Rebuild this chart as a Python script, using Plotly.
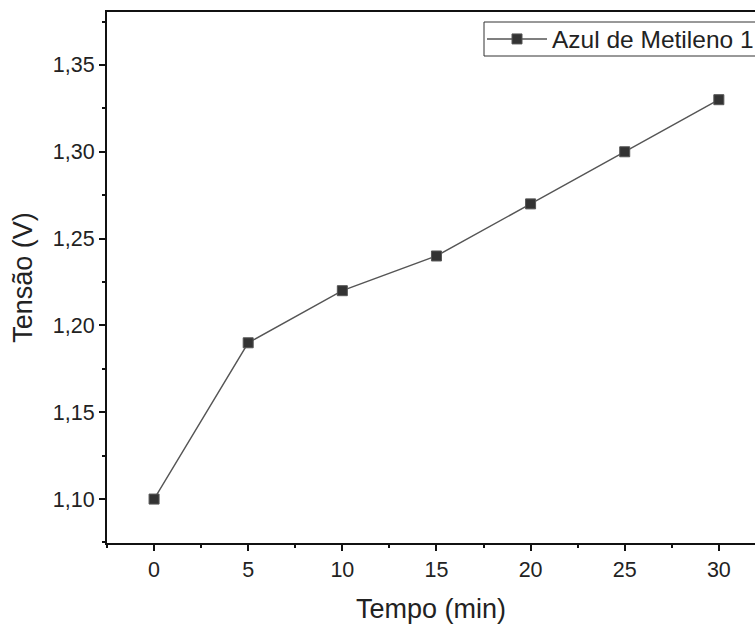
import plotly.graph_objects as go

# Tensão medida ao longo do tempo
tempo_min = [0, 5, 10, 15, 20, 25, 30]
tensao_v = [1.10, 1.19, 1.22, 1.24, 1.27, 1.30, 1.33]
serie_nome = "Azul de Metileno 1"

x_ticks = [0, 5, 10, 15, 20, 25, 30]
y_ticks = [1.10, 1.15, 1.20, 1.25, 1.30, 1.35]
y_tick_labels = ["1,10", "1,15", "1,20", "1,25", "1,30", "1,35"]

FONT = "Arial, Liberation Sans, sans-serif"

W, H = 755, 625
M_L, M_R, M_T, M_B = 107, 0, 12, 82
PLOT_W = W - M_L - M_R
PLOT_H = H - M_T - M_B


def px_x(px):
    return (px - M_L) / PLOT_W


def px_y(py):
    return 1 - (py - M_T) / PLOT_H


fig = go.Figure()
fig.add_trace(go.Scatter(
    x=tempo_min,
    y=tensao_v,
    mode="lines+markers",
    name=serie_nome,
    line=dict(color="#555555", width=1.4),
    marker=dict(symbol="square", size=10, color="#333333",
                line=dict(color="#555555", width=1)),
))

axis_common = dict(
    showgrid=False,
    zeroline=False,
    showline=True,
    linecolor="#111111",
    linewidth=2,
    ticks="outside",
    ticklen=6,
    tickwidth=2,
    tickcolor="#111111",
    tickfont=dict(family=FONT, size=21.5, color="#222222"),
)

fig.update_xaxes(
    **axis_common,
    range=[-2.5, 31.92],
    tickvals=x_ticks,
    mirror=True,
    minor=dict(dtick=2.5, tick0=0, ticks="outside", ticklen=3, tickwidth=2,
               tickcolor="#111111"),
    title=dict(text="Tempo (min)", font=dict(family=FONT, size=27, color="#222222"),
               standoff=18),
)
fig.update_yaxes(
    **axis_common,
    range=[1.0747, 1.3805],
    tickvals=y_ticks,
    ticktext=y_tick_labels,
    minor=dict(dtick=0.025, tick0=1.10, ticks="outside", ticklen=3, tickwidth=2,
               tickcolor="#111111"),
    title=dict(text="Tensão (V)", font=dict(family=FONT, size=27, color="#222222"),
               standoff=12),
)

# Legend frame (runs past the right edge of the canvas)
fig.add_shape(
    type="rect", xref="paper", yref="paper",
    x0=px_x(484), x1=px_x(800), y0=px_y(56), y1=px_y(22),
    line=dict(color="#333333", width=1), fillcolor="white", layer="below",
)

fig.update_layout(
    width=W,
    height=H,
    margin=dict(l=M_L, r=M_R, t=M_T, b=M_B),
    paper_bgcolor="white",
    plot_bgcolor="white",
    showlegend=True,
    legend=dict(
        orientation="h",
        x=px_x(482),
        y=px_y(39),
        xanchor="left",
        yanchor="middle",
        borderwidth=0,
        bgcolor="rgba(0,0,0,0)",
        font=dict(family=FONT, size=24.5, color="#222222"),
        itemwidth=60,
        entrywidth=196,
        entrywidthmode="pixels",
        tracegroupgap=0,
    ),
)

fig.write_html("out.html")
